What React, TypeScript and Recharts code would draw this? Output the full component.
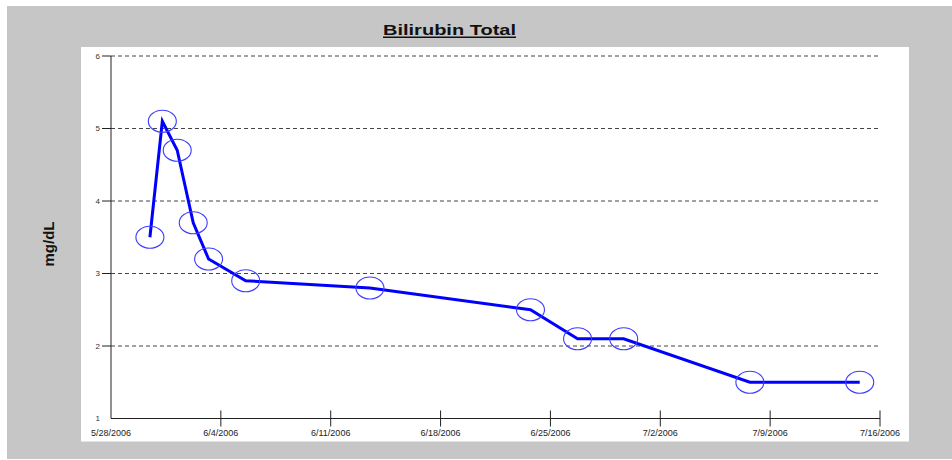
import { LineChart, Line, XAxis, YAxis, CartesianGrid } from "recharts";

// sample times (UTC) and total bilirubin, mg/dL
const sampleTimes = [
  "2006-05-30T11:30:00Z",
  "2006-05-31T06:30:00Z",
  "2006-06-01T05:15:00Z",
  "2006-06-02T05:45:00Z",
  "2006-06-03T05:15:00Z",
  "2006-06-05T14:00:00Z",
  "2006-06-13T12:00:00Z",
  "2006-06-23T17:30:00Z",
  "2006-06-26T17:30:00Z",
  "2006-06-29T16:00:00Z",
  "2006-07-07T17:00:00Z",
  "2006-07-14T17:00:00Z",
];
const bilirubin = [3.5, 5.1, 4.7, 3.7, 3.2, 2.9, 2.8, 2.5, 2.1, 2.1, 1.5, 1.5];

const xTickLabels = [
  "5/28/2006",
  "6/4/2006",
  "6/11/2006",
  "6/18/2006",
  "6/25/2006",
  "7/2/2006",
  "7/9/2006",
  "7/16/2006",
];
const yTicks = [1, 2, 3, 4, 5, 6];

const parseLabel = (s: string) => {
  const [m, d, y] = s.split("/").map(Number);
  return Date.UTC(y, m - 1, d);
};
const formatDate = (t: number) => {
  const d = new Date(t);
  return `${d.getUTCMonth() + 1}/${d.getUTCDate()}/${d.getUTCFullYear()}`;
};

const xTicks = xTickLabels.map(parseLabel);
const data = sampleTimes.map((s, i) => ({ t: Date.parse(s), value: bilirubin[i] }));

const font = "'Liberation Sans', Arial, sans-serif";
const axisColor = "#222";

function XTick(props: any) {
  const { x, y, payload, index } = props;
  return (
    <g>
      {index > 0 && <line x1={x} x2={x} y1={y - 8} y2={y + 8} stroke={axisColor} strokeWidth={1} />}
      <text x={x} y={y + 17} textAnchor="middle" fontSize={9} fontFamily={font} fill="#222">
        {formatDate(payload.value)}
      </text>
    </g>
  );
}

function YTick(props: any) {
  const { x, y, payload } = props;
  return (
    <g>
      {payload.value !== 1 && <line x1={x - 9} x2={x} y1={y} y2={y} stroke={axisColor} strokeWidth={1} />}
      <text x={x - 11} y={y} dy="0.35em" textAnchor="end" fontSize={8} fontFamily={font} fill="#333">
        {payload.value}
      </text>
    </g>
  );
}

function Ring(props: any) {
  const { cx, cy, index } = props;
  return (
    <ellipse key={`ring-${index}`} cx={cx} cy={cy} rx={14} ry={11} fill="none" stroke="#3c3cff" strokeWidth={1.1} />
  );
}

export default function App() {
  return (
    <div style={{ position: "absolute", left: 0, top: 0, width: 952, height: 460, background: "#fff" }}>
      <svg width={952} height={460} style={{ position: "absolute", left: 0, top: 0 }}>
        <rect x={7} y={6} width={945} height={453} fill="#c6c6c6" />
        <rect x={81} y={47} width={828} height={394.5} fill="#fff" />
        <text
          x={449.5}
          y={34.7}
          textAnchor="middle"
          fontSize={14}
          fontWeight="bold"
          fontFamily={font}
          fill="#111"
          textLength={133}
          lengthAdjust="spacingAndGlyphs"
        >
          Bilirubin Total
        </text>
        <line x1={383} x2={516} y1={37.2} y2={37.2} stroke="#111" strokeWidth={1.6} />
        <text
          x={53.5}
          y={244}
          transform="rotate(-90 53.5 244)"
          textAnchor="middle"
          fontSize={15}
          fontWeight="bold"
          fontFamily={font}
          fill="#111"
          textLength={45}
          lengthAdjust="spacingAndGlyphs"
        >
          mg/dL
        </text>
      </svg>
      <div style={{ position: "absolute", left: 0, top: 0 }}>
        <LineChart width={952} height={460} data={data} margin={{ top: 56, right: 72, bottom: 11.5, left: 81 }}>
          <CartesianGrid vertical={false} stroke="#444" strokeDasharray="4 3" />
          <XAxis
            dataKey="t"
            type="number"
            domain={[xTicks[0], xTicks[xTicks.length - 1]]}
            ticks={xTicks}
            height={30}
            tickSize={0}
            tickMargin={0}
            tickLine={false}
            stroke={axisColor}
            tick={<XTick />}
            interval={0}
          />
          <YAxis
            type="number"
            domain={[1, 6]}
            ticks={yTicks}
            width={30}
            tickSize={0}
            tickMargin={0}
            tickLine={false}
            stroke={axisColor}
            tick={<YTick />}
            interval={0}
          />
          <Line
            type="linear"
            dataKey="value"
            stroke="#0000ff"
            strokeWidth={3}
            dot={<Ring />}
            activeDot={false}
            isAnimationActive={false}
          />
        </LineChart>
      </div>
    </div>
  );
}
